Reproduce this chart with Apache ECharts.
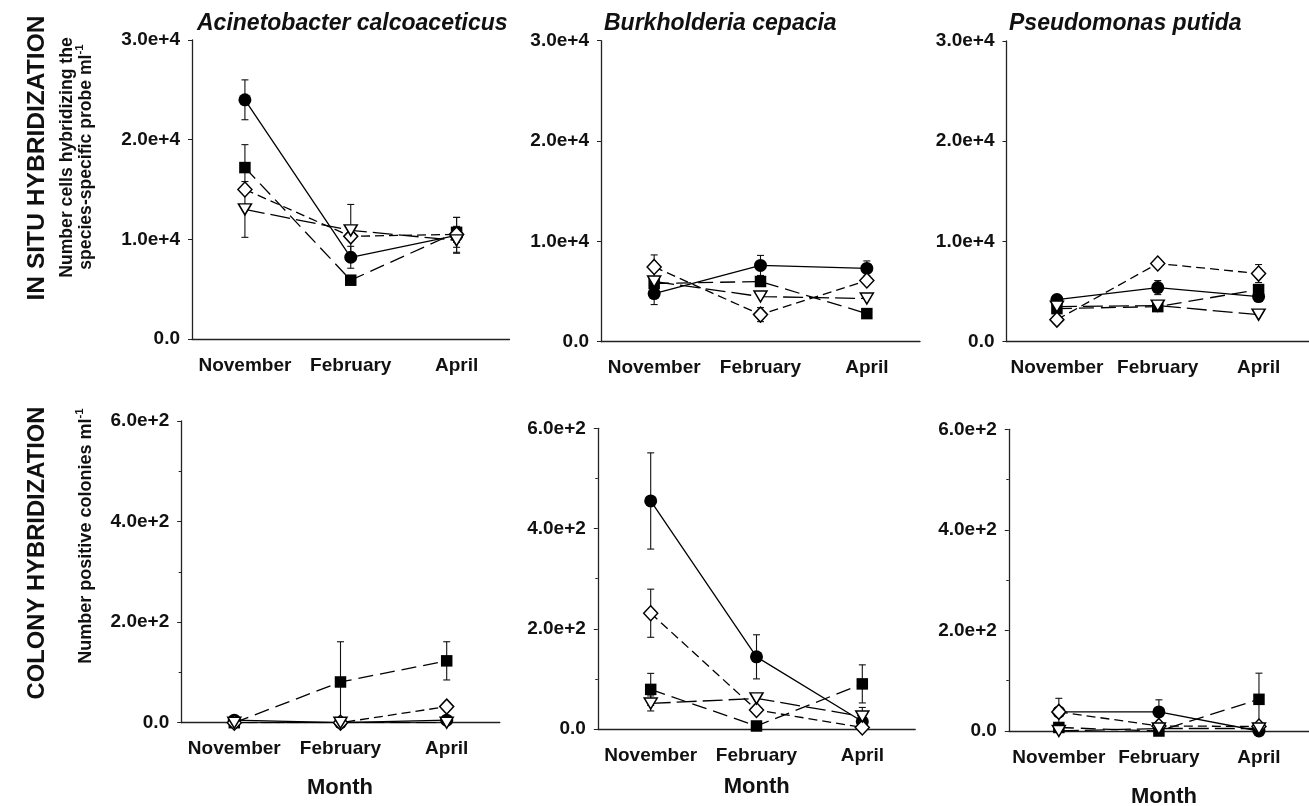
<!DOCTYPE html>
<html><head><meta charset="utf-8">
<script src="https://cdn.jsdelivr.net/npm/echarts@6/dist/echarts.min.js"></script>
<style>html,body{margin:0;padding:0;background:#fff}#c{width:1309px;height:806px}</style>
</head><body><div id="c"></div>
<script>
const months = ['November', 'February', 'April'];
const topTicks = ['0.0', '1.0e+4', '2.0e+4', '3.0e+4'];
const bottomTicks = ['0.0', '2.0e+2', '4.0e+2', '6.0e+2'];
const panelTitles = ['Acinetobacter calcoaceticus', 'Burkholderia cepacia', 'Pseudomonas putida'];

// IN SITU HYBRIDIZATION — Acinetobacter calcoaceticus
const ishAcCircle = [24000, 8200, 10400];
const ishAcCircleErr = [2000, 1100, 1800];
const ishAcSquare = [17200, 5900, 10700];
const ishAcSquareErr = [2300, 0, 1500];
const ishAcDiamond = [15000, 10300, 10500];
const ishAcDiamondErr = [0, 0, 800];
const ishAcTriangle = [13000, 10900, 9900];
const ishAcTriangleErr = [2800, 2600, 1200];

// IN SITU HYBRIDIZATION — Burkholderia cepacia
const ishBuCircle = [4800, 7600, 7300];
const ishBuCircleErr = [1100, 1000, 750];
const ishBuSquare = [5800, 6000, 2800];
const ishBuSquareErr = [600, 0, 0];
const ishBuDiamond = [7450, 2700, 6100];
const ishBuDiamondErr = [1200, 700, 0];
const ishBuTriangle = [6000, 4500, 4300];
const ishBuTriangleErr = [0, 0, 0];

// IN SITU HYBRIDIZATION — Pseudomonas putida
const ishPsCircle = [4200, 5400, 4500];
const ishPsCircleErr = [0, 700, 0];
const ishPsSquare = [3300, 3500, 5200];
const ishPsSquareErr = [0, 0, 500];
const ishPsDiamond = [2200, 7800, 6800];
const ishPsDiamondErr = [0, 0, 900];
const ishPsTriangle = [3500, 3600, 2700];
const ishPsTriangleErr = [0, 0, 0];

// COLONY HYBRIDIZATION — Acinetobacter calcoaceticus
const chAcCircle = [5, 0, 5];
const chAcCircleErr = [0, 0, 0];
const chAcSquare = [0, 81, 123];
const chAcSquareErr = [0, 80, 38];
const chAcDiamond = [0, 0, 32];
const chAcDiamondErr = [0, 0, 0];
const chAcTriangle = [0, 0, 0];
const chAcTriangleErr = [0, 0, 0];

// COLONY HYBRIDIZATION — Burkholderia cepacia
const chBuCircle = [455, 144, 15];
const chBuCircleErr = [96, 44, 0];
const chBuSquare = [79, 6, 90];
const chBuSquareErr = [32, 0, 38];
const chBuDiamond = [231, 38, 3];
const chBuDiamondErr = [48, 0, 0];
const chBuTriangle = [51, 61, 25];
const chBuTriangleErr = [15, 0, 18];

// COLONY HYBRIDIZATION — Pseudomonas putida
const chPsCircle = [38, 38, 0];
const chPsCircleErr = [0, 24, 0];
const chPsSquare = [7, 0, 63];
const chPsSquareErr = [0, 0, 52];
const chPsDiamond = [38, 10, 9];
const chPsDiamondErr = [27, 0, 0];
const chPsTriangle = [0, 5, 5];
const chPsTriangleErr = [0, 0, 0];

const panelData = [
  [[ishAcCircle, ishAcCircleErr], [ishAcSquare, ishAcSquareErr], [ishAcDiamond, ishAcDiamondErr], [ishAcTriangle, ishAcTriangleErr]],
  [[ishBuCircle, ishBuCircleErr], [ishBuSquare, ishBuSquareErr], [ishBuDiamond, ishBuDiamondErr], [ishBuTriangle, ishBuTriangleErr]],
  [[ishPsCircle, ishPsCircleErr], [ishPsSquare, ishPsSquareErr], [ishPsDiamond, ishPsDiamondErr], [ishPsTriangle, ishPsTriangleErr]],
  [[chAcCircle, chAcCircleErr], [chAcSquare, chAcSquareErr], [chAcDiamond, chAcDiamondErr], [chAcTriangle, chAcTriangleErr]],
  [[chBuCircle, chBuCircleErr], [chBuSquare, chBuSquareErr], [chBuDiamond, chBuDiamondErr], [chBuTriangle, chBuTriangleErr]],
  [[chPsCircle, chPsCircleErr], [chPsSquare, chPsSquareErr], [chPsDiamond, chPsDiamondErr], [chPsTriangle, chPsTriangleErr]]
];

const FONT = '"Liberation Sans", Arial, Helvetica, sans-serif';
const layout = [
  {left: 192, top: 40, width: 317.5, height: 299, max: 30000, interval: 10000, ticks: topTicks, minor: false},
  {left: 601, top: 40.7, width: 319, height: 301, max: 30000, interval: 10000, ticks: topTicks, minor: false},
  {left: 1006.5, top: 41, width: 311, height: 300.7, max: 30000, interval: 10000, ticks: topTicks, minor: false},
  {left: 181.2, top: 421, width: 318.6, height: 301.7, max: 600, interval: 200, ticks: bottomTicks, minor: true},
  {left: 597.8, top: 428.3, width: 317.4, height: 300.7, max: 600, interval: 200, ticks: bottomTicks, minor: true},
  {left: 1008.8, top: 429.3, width: 311.4, height: 301.7, max: 600, interval: 200, ticks: bottomTicks, minor: true}
];
const markerStyles = [
  {symbol: 'circle', size: 13, fill: '#000', dash: 'solid', rotate: 0},
  {symbol: 'rect', size: 11.5, fill: '#000', dash: [15, 7], rotate: 0},
  {symbol: 'diamond', size: [14, 15], fill: '#fff', dash: [9, 5], rotate: 0},
  {symbol: 'triangle', size: [13, 11], fill: '#fff', dash: [20, 6], rotate: 180}
];

const grids = [], xAxes = [], yAxes = [], series = [];
layout.forEach((L, p) => {
  grids.push({left: L.left, top: L.top, width: L.width, height: L.height, containLabel: false});
  xAxes.push({
    type: 'category', gridIndex: p, data: months, boundaryGap: true,
    axisLine: {lineStyle: {color: '#222', width: 1.3}},
    axisTick: {alignWithLabel: true, length: 6, inside: false, lineStyle: {color: '#222'}},
    axisLabel: {margin: 17, color: '#111', fontFamily: FONT, fontWeight: 'bold', fontSize: 19, interval: 0},
    splitLine: {show: false}
  });
  yAxes.push({
    type: 'value', gridIndex: p, min: 0, max: L.max, interval: L.interval,
    axisLine: {show: true, lineStyle: {color: '#222', width: 1.3}},
    axisTick: {show: true, length: 4, lineStyle: {color: '#222'}},
    minorTick: {show: L.minor, splitNumber: 2, length: 2.5, lineStyle: {color: '#222'}},
    axisLabel: {margin: 12, color: '#111', fontFamily: FONT, fontWeight: 'bold', fontSize: 19,
      formatter: (v) => L.ticks[Math.round(v / L.interval)]},
    splitLine: {show: false}
  });
  panelData[p].forEach((pair, s) => {
    const vals = pair[0], errs = pair[1], st = markerStyles[s];
    series.push({
      type: 'line', xAxisIndex: p, yAxisIndex: p, data: vals, symbol: 'none', z: 2,
      lineStyle: {color: '#000', width: 1.3, type: st.dash}, animation: false, silent: true
    });
    series.push({
      type: 'custom', xAxisIndex: p, yAxisIndex: p, z: 3, animation: false, silent: true,
      data: vals.map((v, i) => [i, v, errs[i]]),
      renderItem: (params, api) => {
        const e = api.value(2);
        if (!e) return null;
        const i = api.value(0), v = api.value(1);
        const top = api.coord([i, v + e]);
        const bot = api.coord([i, Math.max(0, v - e)]);
        const w = 3.5;
        const sty = {stroke: '#111', lineWidth: 1.1};
        const kids = [
          {type: 'line', shape: {x1: top[0], y1: top[1], x2: bot[0], y2: bot[1]}, style: sty},
          {type: 'line', shape: {x1: top[0] - w, y1: top[1], x2: top[0] + w, y2: top[1]}, style: sty}
        ];
        if (v - e > 0) kids.push({type: 'line', shape: {x1: bot[0] - w, y1: bot[1], x2: bot[0] + w, y2: bot[1]}, style: sty});
        return {type: 'group', children: kids};
      }
    });
  });
  panelData[p].forEach((pair, s) => {
    const st = markerStyles[s];
    series.push({
      type: 'scatter', xAxisIndex: p, yAxisIndex: p, data: pair[0], z: 4 + s, animation: false, silent: true,
      symbol: st.symbol, symbolSize: st.size, symbolRotate: st.rotate,
      itemStyle: {color: st.fill, borderColor: '#000', borderWidth: st.fill === '#fff' ? 1.5 : 0, opacity: 1}
    });
  });
});

const graphics = [];
const titleX = [197, 604, 1009];
panelTitles.forEach((t, i) => graphics.push({
  type: 'text', x: titleX[i], y: 24,
  style: {text: t, font: 'italic bold 23px ' + FONT, fill: '#111', textAlign: 'left', textVerticalAlign: 'middle'}
}));
const rot = Math.PI / 2;
graphics.push({type: 'text', x: 37, y: 158, rotation: rot,
  style: {text: 'IN SITU HYBRIDIZATION', font: 'bold 24.6px ' + FONT, fill: '#111', textAlign: 'center', textVerticalAlign: 'middle'}});
graphics.push({type: 'text', x: 37, y: 553, rotation: rot,
  style: {text: 'COLONY HYBRIDIZATION', font: 'bold 23.8px ' + FONT, fill: '#111', textAlign: 'center', textVerticalAlign: 'middle'}});
graphics.push({type: 'text', x: 67, y: 157.5, rotation: rot,
  style: {text: 'Number cells hybridizing the', font: 'bold 17.6px ' + FONT, fill: '#111', textAlign: 'center', textVerticalAlign: 'middle'}});
graphics.push({type: 'text', x: 86, y: 157, rotation: rot,
  style: {text: '{n|species-specific probe ml}{s|-1}', textAlign: 'center', textVerticalAlign: 'middle', fill: '#111',
    rich: {n: {font: 'bold 17.6px ' + FONT, lineHeight: 24, fill: '#111'}, s: {font: 'bold 11.5px ' + FONT, verticalAlign: 'top', fill: '#111'}}}});
graphics.push({type: 'text', x: 86, y: 536, rotation: rot,
  style: {text: '{n|Number positive colonies ml}{s|-1}', textAlign: 'center', textVerticalAlign: 'middle', fill: '#111',
    rich: {n: {font: 'bold 18px ' + FONT, lineHeight: 24, fill: '#111'}, s: {font: 'bold 11.5px ' + FONT, verticalAlign: 'top', fill: '#111'}}}});
const monthPos = [[340, 788], [756.7, 786.7], [1164, 796.7]];
monthPos.forEach(m => graphics.push({type: 'text', x: m[0], y: m[1],
  style: {text: 'Month', font: 'bold 22px ' + FONT, fill: '#111', textAlign: 'center', textVerticalAlign: 'middle'}}));

const chart = echarts.init(document.getElementById('c'), null, {renderer: 'canvas'});
chart.setOption({
  backgroundColor: '#fff', animation: false,
  grid: grids, xAxis: xAxes, yAxis: yAxes, series: series, graphic: graphics
});
</script></body></html>
